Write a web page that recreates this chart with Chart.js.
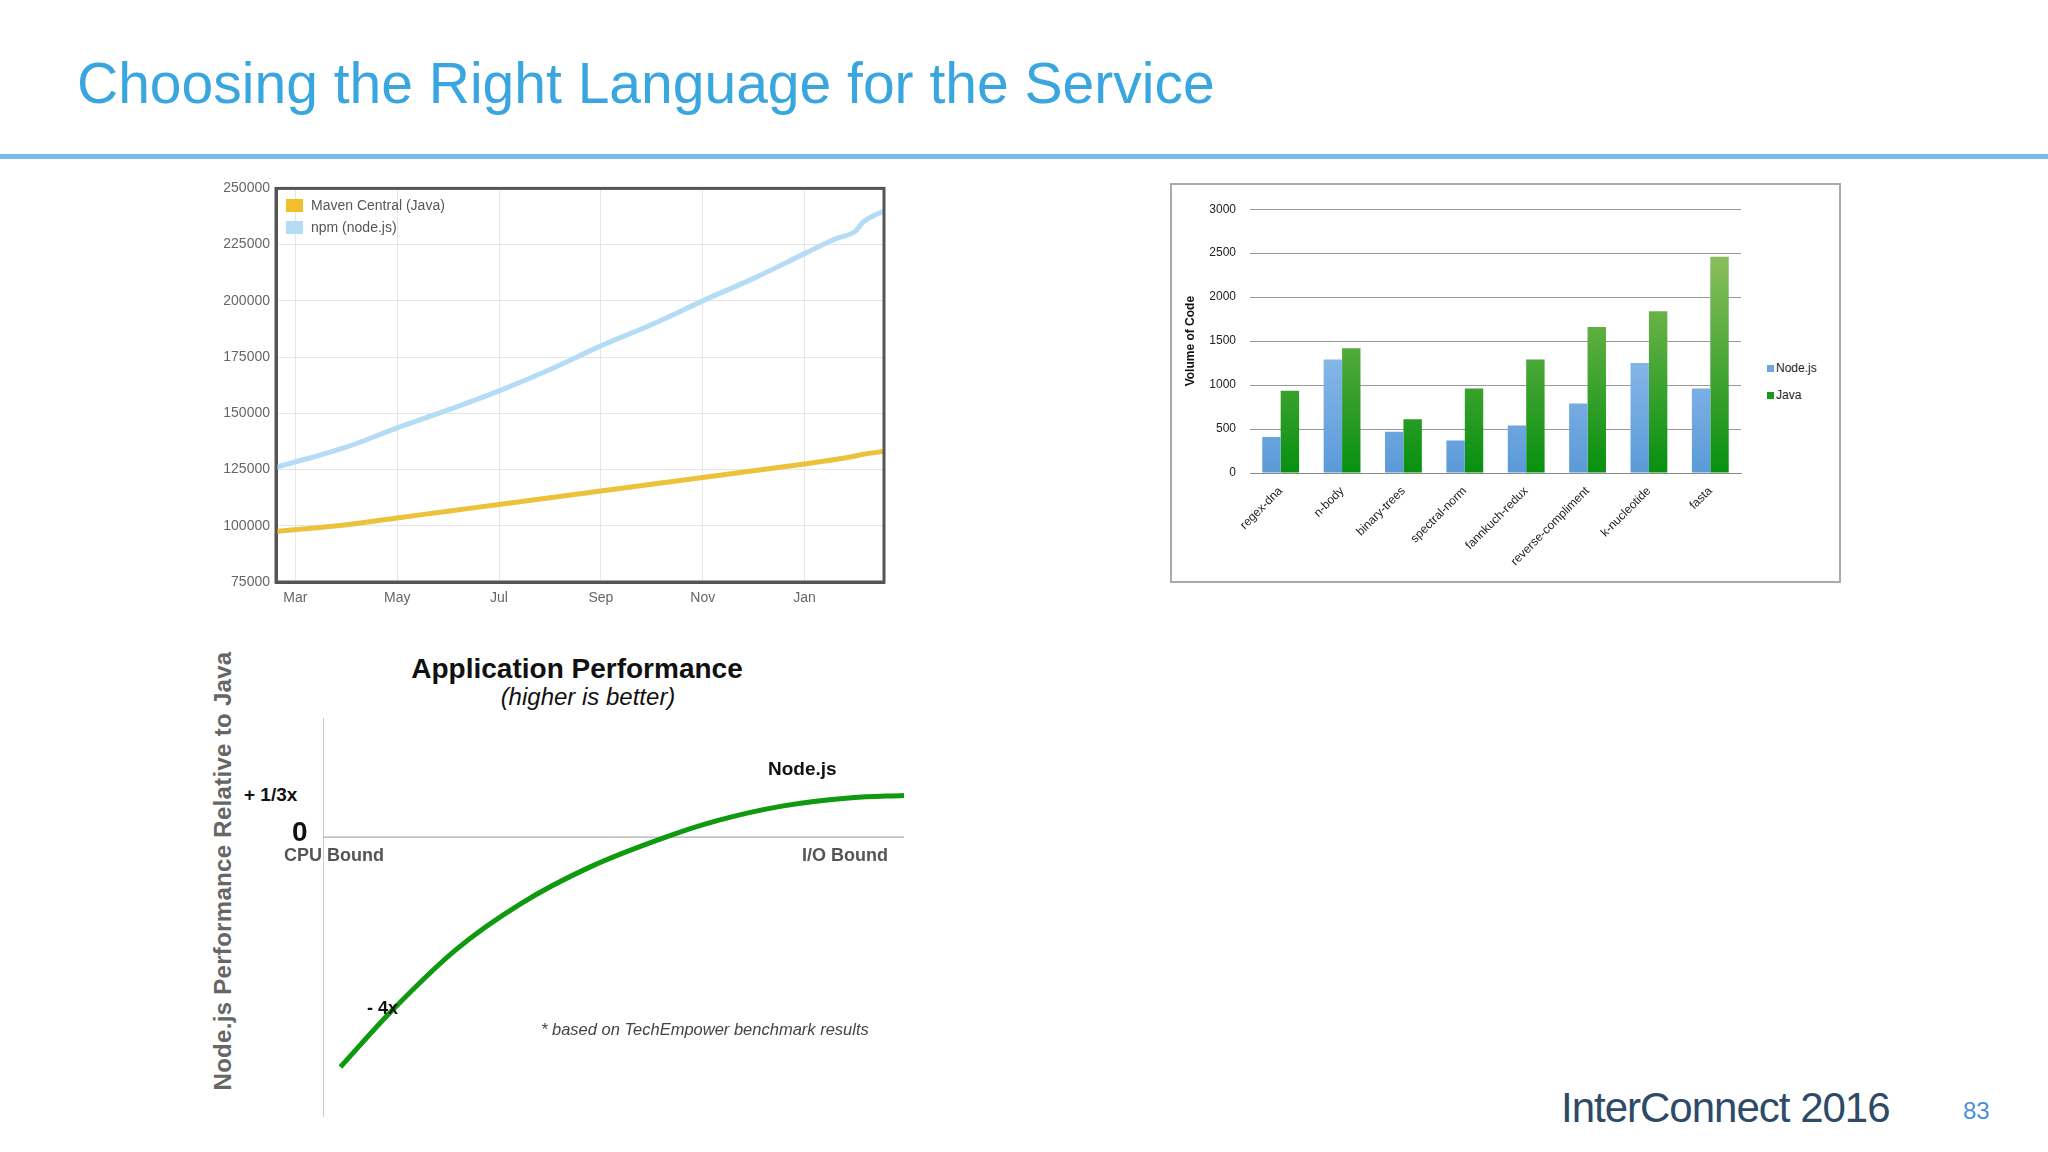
<!DOCTYPE html>
<html>
<head>
<meta charset="utf-8">
<script src="https://cdn.jsdelivr.net/npm/chart.js@4"></script>
<style>
  body { margin: 0; width: 2048px; height: 1152px; background: #fff; position: relative; overflow: hidden; font-family: "Liberation Sans", Arial, sans-serif; }
  .abs { position: absolute; }
  .txt { position: absolute; white-space: nowrap; }
</style>
</head>
<body>
<div class="txt" style="left:77px;top:50px;font-size:57px;color:#3aa6df;">Choosing the Right Language for the Service</div>
<div class="abs" style="left:0;top:154px;width:2048px;height:5px;background:#7ab8ea;"></div>

<!-- growth chart -->
<div class="abs" style="left:200px;top:174px;width:690px;height:436px;"><canvas id="growth"></canvas></div>
<div class="abs" style="left:286px;top:194px;font-size:14px;color:#555;line-height:22px;">
  <div><span style="display:inline-block;width:17px;height:13px;background:#f0bf2a;vertical-align:-2px;margin-right:8px;"></span>Maven Central (Java)</div>
  <div><span style="display:inline-block;width:17px;height:13px;background:#b5dcf6;vertical-align:-2px;margin-right:8px;"></span>npm (node.js)</div>
</div>

<!-- code volume chart -->
<div class="abs" style="left:1170px;top:183px;width:667px;height:396px;border:2px solid #aaa;"></div>
<div class="abs" style="left:1175px;top:188px;width:580px;height:387px;"><canvas id="volume"></canvas></div>
<div class="abs" style="left:1767px;top:355px;font-size:12px;color:#222;line-height:27px;">
  <div><span style="display:inline-block;width:7px;height:7px;background:#6ea7e0;margin-right:2px;"></span>Node.js</div>
  <div><span style="display:inline-block;width:7px;height:7px;background:#1a9a1a;margin-right:2px;"></span>Java</div>
</div>

<!-- performance chart -->
<div class="abs" style="left:318px;top:712px;width:600px;height:412px;"><canvas id="perf"></canvas></div>
<div class="txt" style="left:577px;top:653px;transform:translateX(-50%);font-size:28px;font-weight:bold;color:#111;">Application Performance</div>
<div class="txt" style="left:588px;top:683px;transform:translateX(-50%);font-size:24px;font-style:italic;color:#111;">(higher is better)</div>
<div class="txt" style="left:223px;top:871px;transform:translate(-50%,-50%) rotate(-90deg);font-size:24px;font-weight:bold;color:#666;letter-spacing:0.3px;">Node.js Performance Relative to Java</div>
<div class="txt" style="left:768px;top:758px;font-size:19px;font-weight:bold;color:#111;">Node.js</div>
<div class="txt" style="left:244px;top:784px;font-size:19px;font-weight:bold;color:#111;">+ 1/3x</div>
<div class="txt" style="left:292px;top:816px;font-size:28px;font-weight:bold;color:#111;">0</div>
<div class="txt" style="left:284px;top:845px;font-size:18px;font-weight:bold;color:#555;">CPU Bound</div>
<div class="txt" style="left:802px;top:845px;font-size:18px;font-weight:bold;color:#555;">I/O Bound</div>
<div class="txt" style="left:367px;top:998px;font-size:18px;font-weight:bold;color:#111;">- 4x</div>
<div class="txt" style="left:541px;top:1020px;font-size:16.5px;font-style:italic;color:#444;">* based on TechEmpower benchmark results</div>

<div class="txt" style="left:1561px;top:1084px;font-size:42px;color:#2d4a68;letter-spacing:-1px;">InterConnect 2016</div>
<div class="txt" style="left:1963px;top:1097px;font-size:24px;color:#4a90d9;">83</div>

<script>
// growth chart: x = months since 1 Mar
const monthTicks = { 0: 'Mar', 2: 'May', 4: 'Jul', 6: 'Sep', 8: 'Nov', 10: 'Jan' };
const growthX = [-0.38, 1, 2, 3, 4, 5, 6, 7, 8, 9, 10, 10.6, 11.0, 11.15, 11.56];
const npmCounts = [126000, 135000, 143500, 151500, 160000, 169500, 180000, 189500, 200000, 210000, 221000, 227500, 231000, 235000, 240000];
const mavenCounts = [97500, 100500, 103500, 106500, 109500, 112500, 115500, 118500, 121500, 124500, 127500, 129500, 131000, 131800, 133000];

// code volume chart
const benchmarks = ['regex-dna', 'n-body', 'binary-trees', 'spectral-norm', 'fannkuch-redux', 'reverse-compliment', 'k-nucleotide', 'fasta'];
const nodeVolume = [410, 1290, 470, 370, 540, 790, 1250, 960];
const javaVolume = [935, 1420, 610, 960, 1290, 1660, 1840, 2460];

// performance curve: x = 0 (CPU bound) .. 1 (I/O bound)
const perfX = [0.03, 0.12, 0.23, 0.34, 0.46, 0.59, 0.68, 0.79, 0.91, 1.0];
const perfY = [-1.93, -1.45, -0.94, -0.56, -0.25, 0, 0.14, 0.26, 0.33, 0.35];

const toPoints = (xs, ys) => xs.map((x, i) => ({ x: x, y: ys[i] }));

new Chart(document.getElementById('growth'), {
  type: 'line',
  data: {
    datasets: [
      { data: toPoints(growthX, npmCounts), borderColor: '#b5dcf6', borderWidth: 5, pointRadius: 0, cubicInterpolationMode: 'monotone' },
      { data: toPoints(growthX, mavenCounts), borderColor: '#ecc23a', borderWidth: 5, pointRadius: 0, cubicInterpolationMode: 'monotone' }
    ]
  },
  options: {
    animation: false, responsive: true, maintainAspectRatio: false,
    layout: { padding: { top: 2, right: 6 } },
    plugins: { legend: { display: false }, tooltip: { enabled: false } },
    scales: {
      x: {
        type: 'linear', min: -0.38, max: 11.56,
        afterBuildTicks: s => { s.ticks = [0, 2, 4, 6, 8, 10].map(v => ({ value: v })); },
        afterFit: s => { s.height = 28; },
        ticks: { callback: v => monthTicks[v] || '', color: '#666', font: { size: 14 }, maxRotation: 0, padding: 8 },
        grid: { color: '#e6e6e6', drawTicks: false },
        border: { color: '#555', width: 3 }
      },
      y: {
        min: 75000, max: 250000,
        afterFit: s => { s.width = 76; },
        ticks: { stepSize: 25000, color: '#666', font: { size: 14 }, padding: 6, callback: v => String(v) },
        grid: { color: '#e6e6e6', drawTicks: false },
        border: { color: '#555', width: 3 }
      }
    }
  },
  plugins: [{
    id: 'frame',
    afterDraw(chart) {
      const a = chart.chartArea, c = chart.ctx;
      c.save(); c.strokeStyle = '#555'; c.lineWidth = 3;
      c.strokeRect(a.left, a.top, a.right - a.left, a.bottom - a.top);
      c.restore();
    }
  }]
});

function barGradient(top, bottom) {
  return ctx => {
    const area = ctx.chart.chartArea;
    if (!area) return bottom;
    const g = ctx.chart.ctx.createLinearGradient(0, area.top, 0, area.bottom);
    g.addColorStop(0, top);
    g.addColorStop(1, bottom);
    return g;
  };
}

new Chart(document.getElementById('volume'), {
  type: 'bar',
  data: {
    labels: benchmarks,
    datasets: [
      { label: 'Node.js', data: nodeVolume, backgroundColor: barGradient('#bcdcfb', '#5b9ad8'), categoryPercentage: 0.6, barPercentage: 1 },
      { label: 'Java', data: javaVolume, backgroundColor: barGradient('#a6c86c', '#07900f'), categoryPercentage: 0.6, barPercentage: 1 }
    ]
  },
  options: {
    animation: false, responsive: true, maintainAspectRatio: false,
    layout: { padding: { top: 0, right: 14 } },
    plugins: { legend: { display: false }, tooltip: { enabled: false } },
    scales: {
      x: {
        afterFit: s => { s.height = 102; },
        ticks: { color: '#222', font: { size: 12 }, minRotation: 45, maxRotation: 45 },
        grid: { display: false },
        border: { color: '#888' }
      },
      y: {
        min: 0, max: 3000,
        afterFit: s => { s.width = 75; },
        title: { display: true, text: 'Volume of Code', font: { size: 12, weight: 'bold' }, color: '#111', padding: { top: 8, bottom: 0 } },
        ticks: { stepSize: 500, color: '#222', font: { size: 12 }, padding: 14, callback: v => String(v) },
        grid: { color: '#999', drawTicks: false },
        border: { display: false }
      }
    }
  }
});

new Chart(document.getElementById('perf'), {
  type: 'line',
  data: {
    datasets: [
      { data: toPoints(perfX, perfY), borderColor: '#0f990f', borderWidth: 5, pointRadius: 0, cubicInterpolationMode: 'monotone', clip: false },
      { data: [{ x: 0, y: 0 }, { x: 1, y: 0 }], borderColor: '#999', borderWidth: 1, pointRadius: 0 },
      { data: [{ x: 0, y: -2.35 }, { x: 0, y: 1 }], borderColor: '#999', borderWidth: 1, pointRadius: 0 }
    ]
  },
  options: {
    animation: false, responsive: true, maintainAspectRatio: false,
    layout: { padding: { left: 5, top: 6, right: 14, bottom: 7 } },
    plugins: { legend: { display: false }, tooltip: { enabled: false } },
    scales: {
      x: { type: 'linear', min: 0, max: 1, display: false },
      y: { min: -2.35, max: 1, display: false }
    }
  }
});
</script>
</body>
</html>
